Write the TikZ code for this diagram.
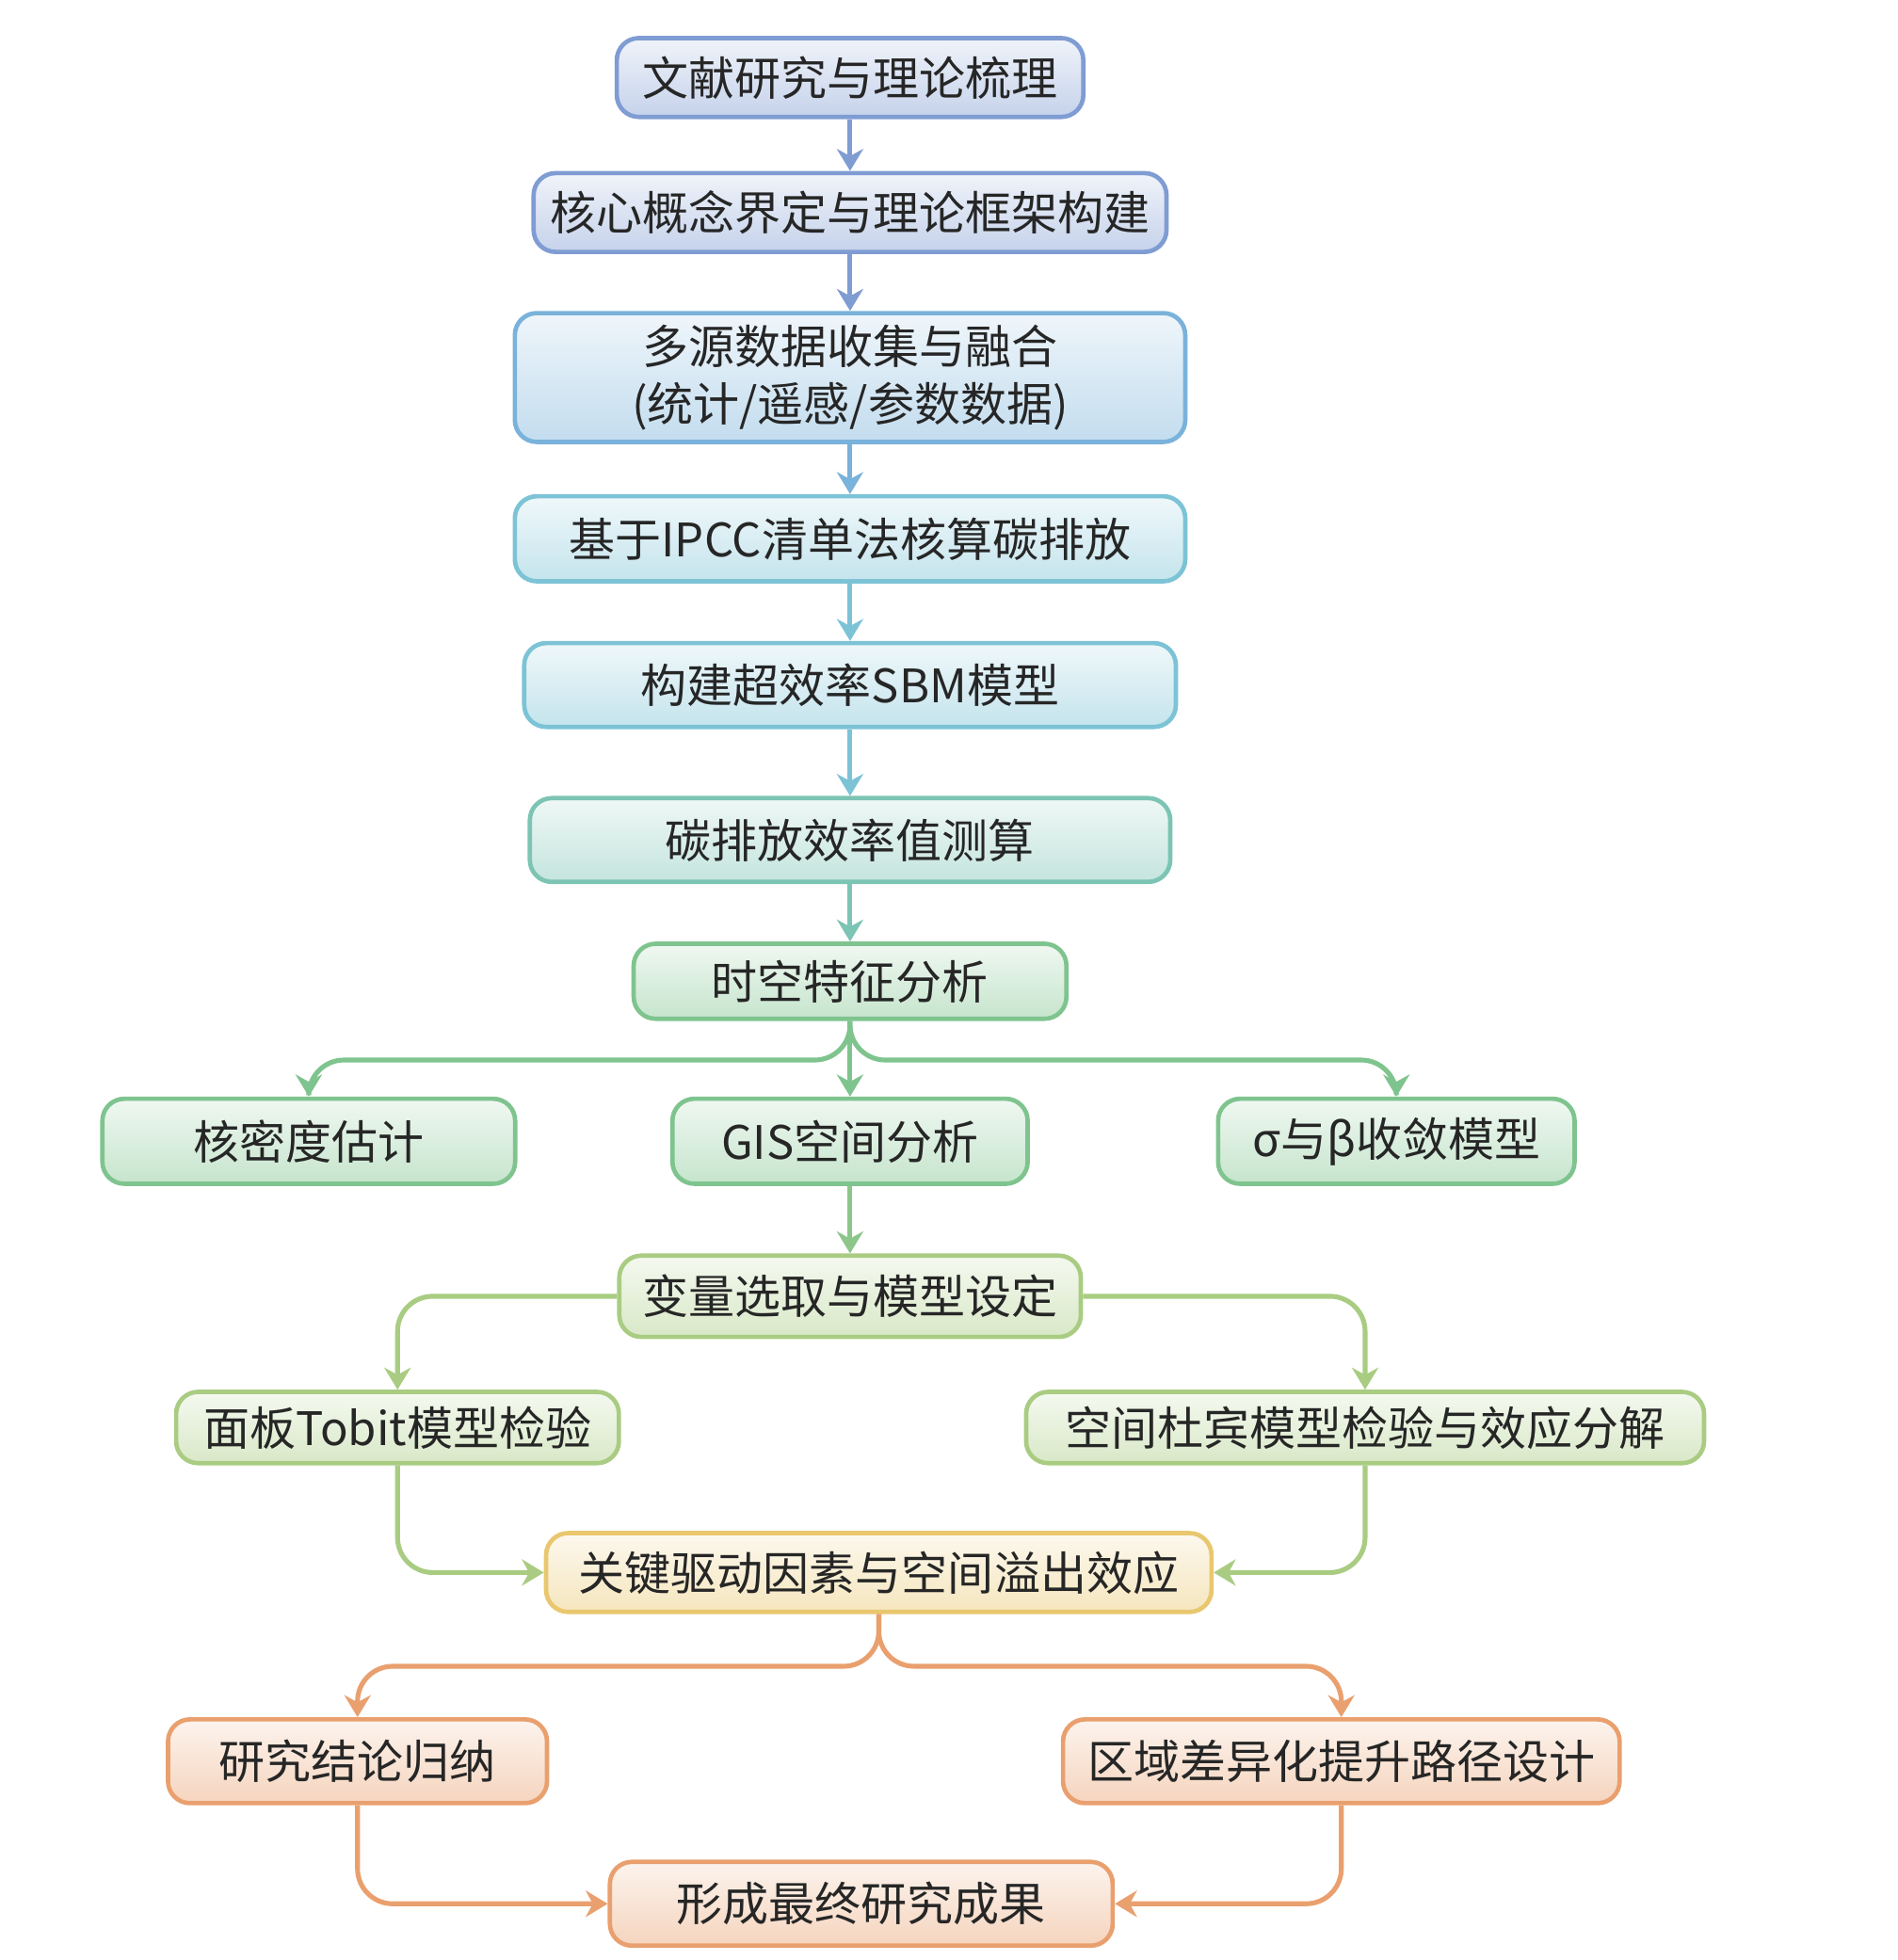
\documentclass[tikz,border=0pt]{standalone}
\usepackage{fontspec}
\setmainfont{Noto Sans CJK SC}
\usetikzlibrary{arrows.meta}
\definecolor{cA}{HTML}{7F9CD3}
\definecolor{cB}{HTML}{79B2DA}
\definecolor{cC}{HTML}{7CC3D6}
\definecolor{cD}{HTML}{7CC4B4}
\definecolor{cE}{HTML}{7FC48E}
\definecolor{cF}{HTML}{A9CC82}
\definecolor{cG}{HTML}{E9C76E}
\definecolor{cH}{HTML}{E9A06E}
\tikzset{
  box/.style={draw=#1,line width=1pt,rounded corners=5pt,top color=#1!12,bottom color=#1!45,
    text=black!85,font=\fontsize{10.5}{13}\selectfont,align=center,inner sep=0pt},
  arr/.style={draw=#1,line width=1.1pt,-{Stealth[length=5pt,width=6pt]},rounded corners=8pt}
}
\begin{document}
\begin{tikzpicture}[x=0.01cm,y=-0.01cm]
\useasboundingbox (0,0) rectangle (1518,1568);
\node[box=cA,minimum width=3.73cm,minimum height=0.63cm] (lit) at (680,62) {文献研究与理论梳理};
\node[box=cA,minimum width=5.06cm,minimum height=0.63cm] (frame) at (680,170) {核心概念界定与理论框架构建};
\node[box=cB,minimum width=5.36cm,minimum height=1.03cm] (data) at (680,302) {多源数据收集与融合\\(统计/遥感/参数数据)};
\node[box=cC,minimum width=5.36cm,minimum height=0.68cm] (ipcc) at (680,431) {基于IPCC清单法核算碳排放};
\node[box=cC,minimum width=5.21cm,minimum height=0.67cm] (sbm) at (680,548) {构建超效率SBM模型};
\node[box=cD,minimum width=5.12cm,minimum height=0.67cm] (eff) at (680,672) {碳排放效率值测算};
\node[box=cE,minimum width=3.46cm,minimum height=0.60cm] (st) at (680,785) {时空特征分析};
\node[box=cE,minimum width=3.30cm,minimum height=0.68cm] (kde) at (247,913) {核密度估计};
\node[box=cE,minimum width=2.84cm,minimum height=0.68cm] (gis) at (680,913) {GIS空间分析};
\node[box=cE,minimum width=2.85cm,minimum height=0.68cm] (conv) at (1117,913) {σ与β收敛模型};
\node[box=cF,minimum width=3.69cm,minimum height=0.65cm] (var) at (680,1037) {变量选取与模型设定};
\node[box=cF,minimum width=3.54cm,minimum height=0.57cm] (tobit) at (318,1142) {面板Tobit模型检验};
\node[box=cF,minimum width=5.42cm,minimum height=0.57cm] (sdm) at (1092,1142) {空间杜宾模型检验与效应分解};
\node[box=cG,minimum width=5.32cm,minimum height=0.63cm] (key) at (703,1258) {关键驱动因素与空间溢出效应};
\node[box=cH,minimum width=3.03cm,minimum height=0.67cm] (concl) at (286,1409) {研究结论归纳};
\node[box=cH,minimum width=4.45cm,minimum height=0.67cm] (path) at (1073,1409) {区域差异化提升路径设计};
\node[box=cH,minimum width=4.02cm,minimum height=0.67cm] (final) at (689,1523) {形成最终研究成果};
% main chain
\draw[arr=cA] (lit) -- (frame);
\draw[arr=cA] (frame) -- (data);
\draw[arr=cB] (data) -- (ipcc);
\draw[arr=cC] (ipcc) -- (sbm);
\draw[arr=cC] (sbm) -- (eff);
\draw[arr=cD] (eff) -- (st);
% branches
\draw[arr=cE] (st.south) |- (400,848) -| (kde.north);
\draw[arr=cE] (st.south) |- (900,848) -| (conv.north);
\draw[arr=cE] (st) -- (gis);
\draw[arr=cE!70!cF] (gis) -- (var);
\draw[arr=cF] (var.west) -| (tobit.north);
\draw[arr=cF] (var.east) -| (sdm.north);
\draw[arr=cF] (tobit.south) |- (key.west);
\draw[arr=cF] (sdm.south) |- (key.east);
\draw[arr=cH] (key.south) |- (500,1333) -| (concl.north);
\draw[arr=cH] (key.south) |- (900,1333) -| (path.north);
\draw[arr=cH] (concl.south) |- (final.west);
\draw[arr=cH] (path.south) |- (final.east);
\end{tikzpicture}
\end{document}
